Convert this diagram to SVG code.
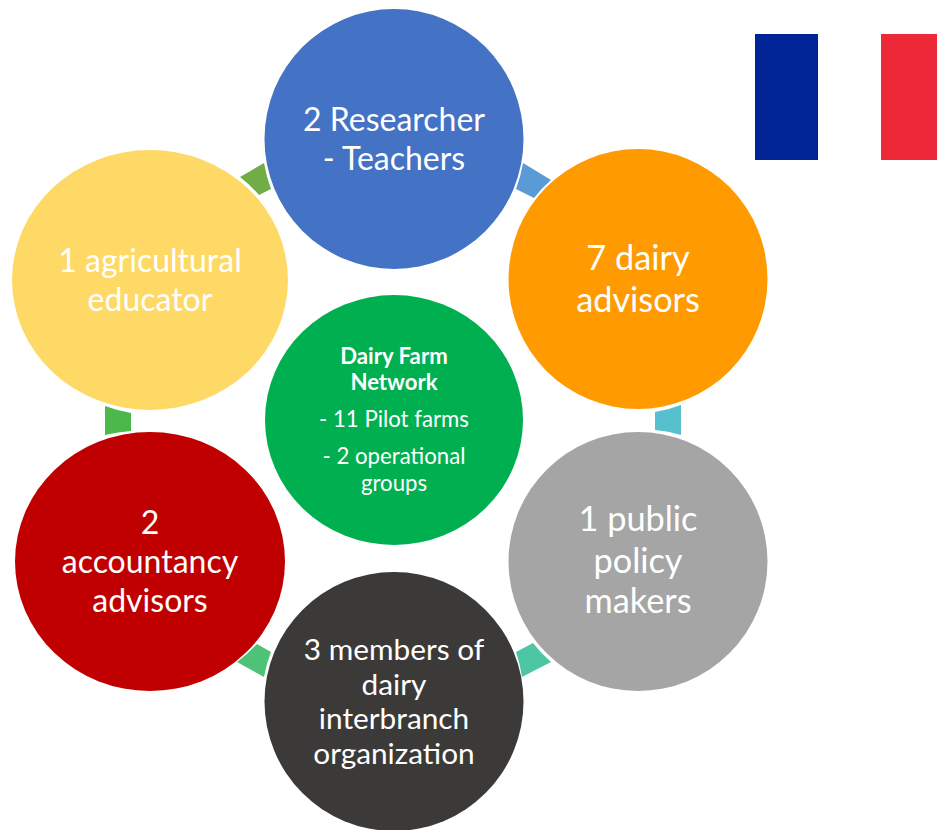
<svg xmlns="http://www.w3.org/2000/svg" width="937" height="830" viewBox="0 0 937 830">
<style>
text{font-family:Lato,"Open Sans",sans-serif;fill:#fff;text-anchor:middle}
.big{font-size:32px}
.big2{font-size:34.3px}
.dark{font-size:29.8px}
.sm{font-size:22.2px}
.b{font-weight:700}
</style>
<rect width="937" height="830" fill="#fff"/>
<g id="connectors">
<path d="M240 177L264 163A132 132 0 0 0 271 189L259 195A132 132 0 0 0 240 177Z" fill="#70ad47"/>
<path d="M523 163L551 180A132 132 0 0 0 534 198L516 189A132 132 0 0 0 523 163Z" fill="#5b9bd5"/>
<path d="M655 412A134 134 0 0 0 681 405L681 435A134 134 0 0 0 655 430Z" fill="#56c0cf"/>
<path d="M516 652L533 643A133 133 0 0 0 551 662L522 677A132 132 0 0 0 516 652Z" fill="#4dc6a5"/>
<path d="M257 644L271 652A132 132 0 0 0 264 677L237 662A134 134 0 0 0 257 644Z" fill="#4ec276"/>
<path d="M105 406A138 134 0 0 0 131 413L131 431A135 131 0 0 0 105 435Z" fill="#4cb84c"/>
</g>
<g id="flag">
<rect x="755" y="34" width="63" height="126" fill="#002395"/>
<rect x="881" y="34" width="56" height="126" fill="#ed2939"/>
</g>
<g id="node-researchers">
<ellipse cx="394" cy="139" rx="129.500" ry="130" fill="#4472c4"/>
<text class="big" x="394" y="131">2 Researcher</text>
<text class="big" x="394" y="170">- Teachers</text>
</g>
<g id="node-dairy-advisors">
<ellipse cx="638" cy="279" rx="129.500" ry="130" fill="#ff9a00"/>
<text class="big2" x="638" y="270">7 dairy</text>
<text class="big2" x="638" y="312">advisors</text>
</g>
<g id="node-policy">
<ellipse cx="638" cy="561.500" rx="129.500" ry="129.500" fill="#a5a5a5"/>
<text class="big2" x="638" y="531">1 public</text>
<text class="big2" x="638" y="573">policy</text>
<text class="big2" x="638" y="613">makers</text>
</g>
<g id="node-interbranch">
<ellipse cx="394" cy="701.500" rx="129.500" ry="129.500" fill="#3b3a38"/>
<text class="dark" x="394" y="660">3 members of</text>
<text class="dark" x="394" y="695">dairy</text>
<text class="dark" x="394" y="729">interbranch</text>
<text class="dark" x="394" y="764">organization</text>
</g>
<g id="node-accountancy">
<ellipse cx="150" cy="561.500" rx="135" ry="129.500" fill="#c00000"/>
<text class="big" x="150" y="534">2</text>
<text class="big" x="150" y="573">accountancy</text>
<text class="big" x="150" y="612">advisors</text>
</g>
<g id="node-educator">
<ellipse cx="150" cy="280" rx="138" ry="130" fill="#ffd966"/>
<text class="big" x="150" y="272">1 agricultural</text>
<text class="big" x="150" y="311">educator</text>
</g>
<g id="node-network">
<ellipse cx="394" cy="420" rx="129" ry="125" fill="#00b050"/>
<text class="sm b" x="394" y="364">Dairy Farm</text>
<text class="sm b" x="394" y="390">Network</text>
<text class="sm" x="394" y="427">- 11 Pilot farms</text>
<text class="sm" x="394" y="464">- 2 operational</text>
<text class="sm" x="394" y="491">groups</text>
</g>
</svg>
